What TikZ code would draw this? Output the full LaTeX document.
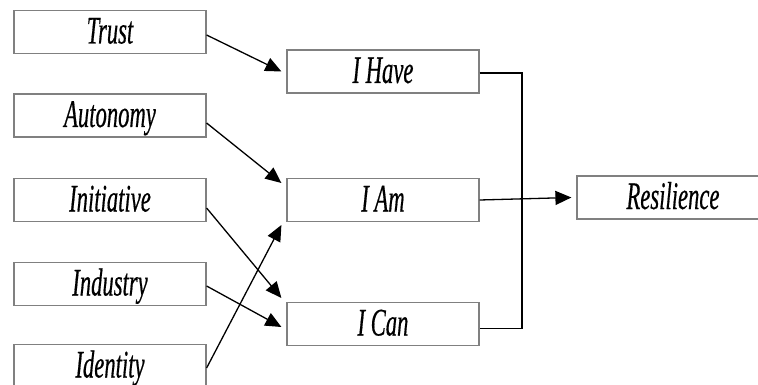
\documentclass[tikz,border=0pt]{standalone}
\usepackage{fontspec}
\newfontfamily\condfont[FakeStretch=0.58,FakeBold=0.4]{Liberation Serif}
\usetikzlibrary{arrows.meta,calc}
\begin{document}
\begin{tikzpicture}[x=1pt,y=-1pt,
  box/.style={draw=black!50, line width=1.2pt, fill=white, rectangle,
    minimum width=192pt, minimum height=43pt, inner sep=0pt,
    text height=27pt, text depth=4pt,
    font=\condfont\itshape\fontsize{39}{39}\selectfont},
  conn/.style={draw=black, line width=1.3pt},
  arr/.style={conn, -{Triangle[length=16pt,width=14pt]}}]
\useasboundingbox (0,0) rectangle (758,385);
\clip (0,0) rectangle (758,385);
\fill[white] (0,0) rectangle (758,385);
% left column
\node[box] (trust) at (110,32) {Trust};
\node[box] (auto) at (110,115.5) {Autonomy};
\node[box] (init) at (110,200) {Initiative};
\node[box] (indu) at (110,284) {Industry};
\node[box] (iden) at (110,366) {Identity};
% middle column
\node[box] (ihave) at (383,71.5) {I Have};
\node[box] (iam) at (383,200) {I Am};
\node[box] (ican) at (383,324) {I Can};
% right
\node[box] (res) at (673,197.5) {Resilience};
% arrows from left to middle
\draw[arr] ($(trust.east)+(0,3)$) -- ($(ihave.west)+(-5,0)$);
\draw[arr] ($(auto.east)+(0,7.5)$) -- ($(iam.west)+(-5,-17)$);
\draw[arr] ($(init.east)+(0,8)$) -- ($(ican.west)+(-5,-26)$);
\draw[arr] ($(indu.east)+(0,2)$) -- ($(ican.west)+(-5,3)$);
\draw[arr] ($(iden.east)+(0,2)$) -- ($(iam.west)+(-5,25)$);
% bus
\coordinate (bus) at (522,0);
\draw[conn] ($(ihave.east)+(0,1.5)$) -- ($(ihave.east -| bus)+(0,1.5)$) -- ($(ican.east -| bus)+(0,4.5)$) -- ($(ican.east)+(0,4.5)$);
\draw[arr] (iam.east) -- ($(res.west)+(-5,0)$);
\end{tikzpicture}
\end{document}
